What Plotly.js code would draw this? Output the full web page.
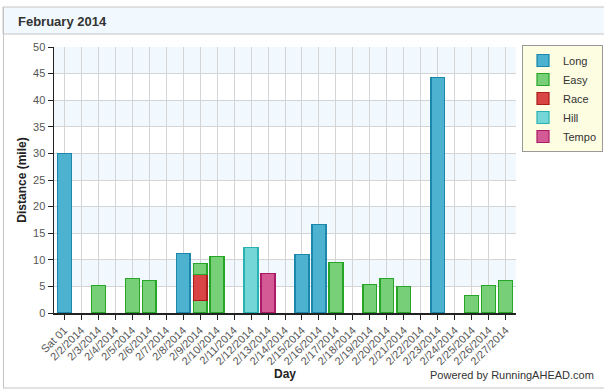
<!DOCTYPE html>
<html>
<head>
<meta charset="utf-8">
<script src="https://cdn.plot.ly/plotly-3.0.1.min.js"></script>
<style>html,body{margin:0;padding:0;background:#fff;}#chart{width:604px;height:392px;}</style>
</head>
<body>
<div id="chart"></div>
<script>
// ---- Data ----
var days = ["Sat 01","2/2/2014","2/3/2014","2/4/2014","2/5/2014","2/6/2014","2/7/2014","2/8/2014","2/9/2014","2/10/2014","2/11/2014","2/12/2014","2/13/2014","2/14/2014","2/15/2014","2/16/2014","2/17/2014","2/18/2014","2/19/2014","2/20/2014","2/21/2014","2/22/2014","2/23/2014","2/24/2014","2/25/2014","2/26/2014","2/27/2014"];
var longRuns  = [30,null,null,null,null,null,null,11.2,null,null,null,null,null,null,11.0,16.7,null,null,null,null,null,null,44.2,null,null,null,null];
var easyRuns  = [null,null,5.2,null,6.5,6.1,null,null,2.3,10.6,null,null,null,null,null,null,9.5,null,5.4,6.5,5.0,null,null,null,3.3,5.2,6.1];
var raceRuns  = [null,null,null,null,null,null,null,null,4.9,null,null,null,null,null,null,null,null,null,null,null,null,null,null,null,null,null,null];
var easyRuns2 = [null,null,null,null,null,null,null,null,2.1,null,null,null,null,null,null,null,null,null,null,null,null,null,null,null,null,null,null];
var hillRuns  = [null,null,null,null,null,null,null,null,null,null,null,12.3,null,null,null,null,null,null,null,null,null,null,null,null,null,null,null];
var tempoRuns = [null,null,null,null,null,null,null,null,null,null,null,null,7.4,null,null,null,null,null,null,null,null,null,null,null,null,null,null];
var yTicks = [0,5,10,15,20,25,30,35,40,45,50];

// ---- Layout geometry ----
var W = 604, H = 392, L = 54, R = 88, T = 47, B = 79;
var pw = W - L - R, ph = H - T - B;
function px(x){ return (x - L) / pw; }
function py(y){ return (H - B - y) / ph; }

var FONT = "Liberation Sans, Arial, sans-serif";

function barTrace(name, vals, fill, line, show){
  return {type:"bar", name:name, x:days, y:vals, showlegend:show,
    marker:{color:fill, line:{color:line, width:1.2}}, hoverinfo:"x+y+name"};
}
var traces = [
  barTrace("Long",  longRuns,  "#4cb2cf", "#1a87ab", true),
  barTrace("Easy",  easyRuns,  "#77cf77", "#27a527", true),
  barTrace("Race",  raceRuns,  "#d94444", "#ac1c1c", true),
  barTrace("Easy",  easyRuns2, "#77cf77", "#27a527", false),
  barTrace("Hill",  hillRuns,  "#74d6d6", "#2ab2b2", true),
  barTrace("Tempo", tempoRuns, "#d45a96", "#aa1a66", true)
];

var shapes = [];
// alternating bands
for (var i = 1; i < yTicks.length - 1; i += 2){
  shapes.push({type:"rect", xref:"paper", yref:"y", x0:0, x1:1, y0:yTicks[i], y1:yTicks[i+1],
    fillcolor:"#f1f9fe", line:{width:0}, layer:"below"});
}
// header band and frame
shapes.push({type:"rect", xref:"paper", yref:"paper", x0:px(3), x1:px(608), y0:py(34), y1:py(7),
  fillcolor:"#f1f9fe", line:{color:"#c4c4c4", width:1}, layer:"below"});
shapes.push({type:"line", xref:"paper", yref:"paper", x0:px(3.5), x1:px(3.5), y0:py(7), y1:py(388), line:{color:"#c4c4c4", width:1}});
shapes.push({type:"line", xref:"paper", yref:"paper", x0:px(3), x1:px(608), y0:py(388), y1:py(388), line:{color:"#c4c4c4", width:1}});

var layout = {
  width:W, height:H,
  margin:{l:L, r:R, t:T, b:B, pad:0, autoexpand:false},
  paper_bgcolor:"#ffffff", plot_bgcolor:"rgba(0,0,0,0)",
  font:{family:FONT, size:11, color:"#444"},
  barmode:"stack", bargap:0.18,
  title:{text:"February 2014", xref:"container", yref:"container", x:18/W, y:1-21/H,
    xanchor:"left", yanchor:"middle", font:{family:FONT, size:13, color:"#333", weight:"bold"}},
  xaxis:{type:"category", range:[-0.6, 26.6], tickangle:-45, showgrid:true, gridcolor:"#d4d4d4", gridwidth:1,
    showline:true, linecolor:"#222", linewidth:1.5, ticks:"outside", ticklen:5, tickcolor:"#222",
    tickfont:{family:FONT, size:11, color:"#555"}, fixedrange:true, automargin:false,
    title:{text:"Day", font:{family:FONT, size:12, color:"#222", weight:"bold"}, standoff:2}},
  yaxis:{range:[0,50], tickvals:yTicks, showgrid:true, gridcolor:"#d4d4d4", gridwidth:1, zeroline:false,
    showline:true, linecolor:"#222", linewidth:1.5, ticks:"outside", ticklen:5, tickcolor:"#222",
    tickfont:{family:FONT, size:11, color:"#555"}, fixedrange:true, automargin:false,
    title:{text:"Distance (mile)", font:{family:FONT, size:12, color:"#222", weight:"bold"}, standoff:4}},
  legend:{xref:"container", yref:"container", x:522/W, y:1-45/H, xanchor:"left", yanchor:"top",
    bgcolor:"#fdfde2", bordercolor:"#999", borderwidth:1,
    font:{family:FONT, size:11, color:"#333"}, itemwidth:30, traceorder:"normal"},
  shapes:shapes,
  annotations:[{text:"Powered by RunningAHEAD.com", xref:"paper", yref:"paper", x:px(428), y:py(375),
    xanchor:"left", yanchor:"middle", showarrow:false, font:{family:FONT, size:11, color:"#333"}}]
};

Plotly.newPlot("chart", traces, layout, {displayModeBar:false, staticPlot:true});
</script>
</body>
</html>
